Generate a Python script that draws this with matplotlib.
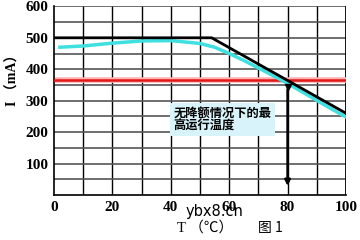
import numpy as np
import matplotlib
matplotlib.use('Agg')
import matplotlib.pyplot as plt

# datos
t_limite = [0, 54, 100]
i_limite = [500, 500, 260]

t_curva = [2, 10, 20, 30, 40, 50, 55, 60, 65, 70, 75, 80, 85, 90, 95, 100]
i_curva = [470, 474, 483, 490, 491, 482, 470, 450, 428, 404, 380, 355, 328, 301, 274, 248]

i_max = 365
t_max = 80

xticks = [0, 20, 40, 60, 80, 100]
yticks = [100, 200, 300, 400, 500, 600]

fig = plt.figure(figsize=(3.6, 2.4), dpi=100)
ax = fig.add_axes([0.15, 0.1875, 0.811, 0.786])

# rejilla
for xv in np.arange(10, 100, 10):
    ax.axvline(xv, color='black', lw=1, zorder=1)
for yv in np.arange(50, 650, 50):
    ax.axhline(yv, color='#555555', lw=1.2, zorder=1)
ax.axvline(100, color='black', lw=2, zorder=1)

ax.axhline(i_max, color='#ffb0b0', lw=4, zorder=2)
ax.axhline(i_max, color='#e01818', lw=1.8, zorder=3)
ax.plot(t_curva, i_curva, color='#40e0e0', lw=2.5, zorder=4)
ax.plot(t_limite, i_limite, color='black', lw=2, zorder=5)

ax.annotate('', xy=(t_max, 20), xytext=(t_max, 345),
            arrowprops=dict(arrowstyle='-|>', color='black', lw=1.8, mutation_scale=8), zorder=6)
ax.plot([t_max], [343], marker='v', color='black', ms=4, zorder=6)

ax.text(41, 240, '无降额情况下的最\n高运行温度', family=['Noto Sans CJK SC'], fontsize=8.8,
        fontweight='bold', va='center', ha='left', linespacing=1.05,
        bbox=dict(boxstyle='square,pad=0.3', fc='#d8f4fa', ec='none'), zorder=7)

ax.set_xlim(0, 100)
ax.set_ylim(0, 600)
ax.set_xticks(xticks)
ax.set_yticks(yticks)
ax.tick_params(length=0, pad=4)
for lab in ax.get_xticklabels() + ax.get_yticklabels():
    lab.set_family('Liberation Serif')
    lab.set_fontweight('bold')
    lab.set_fontsize(11)
for s in ['top', 'right']:
    ax.spines[s].set_visible(False)
ax.spines['left'].set_linewidth(1.2)
ax.spines['bottom'].set_linewidth(1.2)

fig.text(0.035, 0.68, 'I （mA）', rotation=90, family=['Liberation Serif', 'Noto Sans CJK SC'],
         fontsize=10, fontweight='bold', ha='center', va='center')
fig.text(0.57, 0.05, 'T （℃）', family=['Liberation Serif', 'Noto Sans CJK SC'],
         fontsize=10.5, ha='center', va='center')
fig.text(0.75, 0.05, '图 1', family=['Noto Sans CJK SC', 'DejaVu Sans'],
         fontsize=10, ha='center', va='center')
fig.text(0.595, 0.118, 'ybx8.cn', family='DejaVu Sans', fontsize=10.5, ha='center', va='center')

fig.savefig('out.png', dpi=100)
